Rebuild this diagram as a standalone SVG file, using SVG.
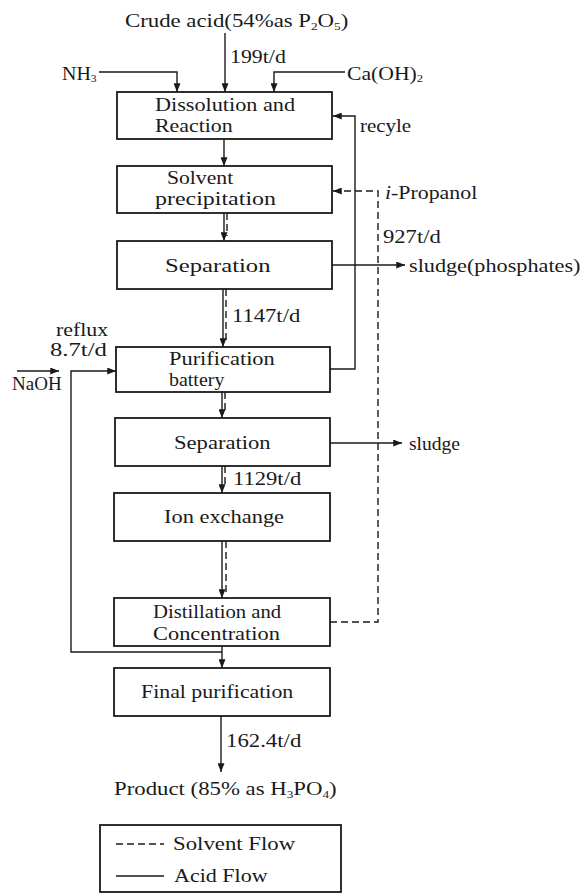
<svg xmlns="http://www.w3.org/2000/svg" width="582" height="894" viewBox="0 0 582 894">
<style>
text{font-family:"Liberation Serif","Times New Roman",serif;font-size:19px;fill:#1a1a1a}
.box{fill:#fff;stroke:#1a1a1a;stroke-width:1.8}
.ln{fill:none;stroke:#1a1a1a;stroke-width:1.4}
.ds{fill:none;stroke:#1a1a1a;stroke-width:1.4;stroke-dasharray:7,4}
.sub{font-size:11px}
</style>
<defs>
<marker id="ah" viewBox="0 0 10 8" refX="10" refY="4" markerWidth="10" markerHeight="7" markerUnits="userSpaceOnUse" orient="auto">
<path d="M0,0 L10,4 L0,8 Z" fill="#1a1a1a"/>
</marker>
</defs>
<rect width="582" height="894" fill="#fff"/>

<g id="connectors">
<line class="ln" x1="225" y1="33" x2="225" y2="92" marker-end="url(#ah)"/>
<polyline class="ln" points="99,72 177,72 177,92" marker-end="url(#ah)"/>
<polyline class="ln" points="345,72 274,72 274,92" marker-end="url(#ah)"/>
<line class="ln" x1="224" y1="139" x2="224" y2="166" marker-end="url(#ah)"/>
<line class="ln" x1="224" y1="213" x2="224" y2="241" marker-end="url(#ah)"/>
<line class="ds" x1="227" y1="213" x2="227" y2="236"/>
<line class="ln" x1="223" y1="289" x2="223" y2="347" marker-end="url(#ah)"/>
<line class="ds" x1="226" y1="289" x2="226" y2="342"/>
<line class="ln" x1="222" y1="392" x2="222" y2="418" marker-end="url(#ah)"/>
<line class="ds" x1="225" y1="392" x2="225" y2="413"/>
<line class="ln" x1="222" y1="466" x2="222" y2="493" marker-end="url(#ah)"/>
<line class="ds" x1="225" y1="466" x2="225" y2="488"/>
<line class="ln" x1="222" y1="541" x2="222" y2="598" marker-end="url(#ah)"/>
<line class="ds" x1="226" y1="541" x2="226" y2="593"/>
<line class="ln" x1="222" y1="646" x2="222" y2="668" marker-end="url(#ah)"/>
<line class="ln" x1="221" y1="716" x2="221" y2="772" marker-end="url(#ah)"/>
<polyline class="ln" points="330,369 355,369 355,116 333,116" marker-end="url(#ah)"/>
<polyline class="ds" points="330,622 378,622 378,191 333,191" marker-end="url(#ah)"/>
<line class="ln" x1="332" y1="265" x2="405" y2="265" marker-end="url(#ah)"/>
<line class="ln" x1="330" y1="443" x2="402" y2="443" marker-end="url(#ah)"/>
<polyline class="ln" points="222,652 71,652 71,371 116,371" marker-end="url(#ah)"/>
<line class="ln" x1="17" y1="371" x2="59" y2="371" marker-end="url(#ah)"/>
</g>

<g id="n-dissolution">
<rect class="box" x="117" y="92" width="215" height="47"/>
<text transform="translate(155,111) scale(1.17,1)">Dissolution and</text>
<text transform="translate(155,132) scale(1.15,1)">Reaction</text>
</g>
<g id="n-solvent">
<rect class="box" x="117" y="166" width="215" height="47"/>
<text transform="translate(167,184) scale(1.14,1)">Solvent</text>
<text transform="translate(155,205) scale(1.26,1)">precipitation</text>
</g>
<g id="n-separation1">
<rect class="box" x="117" y="241" width="215" height="48"/>
<text transform="translate(165,272) scale(1.3,1)">Separation</text>
</g>
<g id="n-purification">
<rect class="box" x="116" y="347" width="214" height="45"/>
<text transform="translate(169,365) scale(1.18,1)">Purification</text>
<text transform="translate(169,386) scale(1.05,1)">battery</text>
</g>
<g id="n-separation2">
<rect class="box" x="115" y="418" width="215" height="48"/>
<text transform="translate(174,449) scale(1.19,1)">Separation</text>
</g>
<g id="n-ion">
<rect class="box" x="114" y="493" width="216" height="48"/>
<text transform="translate(164,523) scale(1.18,1)">Ion exchange</text>
</g>
<g id="n-distillation">
<rect class="box" x="114" y="598" width="216" height="48"/>
<text transform="translate(153,618) scale(1.09,1)">Distillation and</text>
<text transform="translate(153,640) scale(1.18,1)">Concentration</text>
</g>
<g id="n-final">
<rect class="box" x="114" y="668" width="216" height="48"/>
<text transform="translate(141,698) scale(1.15,1)">Final purification</text>
</g>

<g id="labels">
<text transform="translate(125,27) scale(1.2,1)">Crude acid(54%as P<tspan class="sub" dy="3">2</tspan><tspan dy="-3">O</tspan><tspan class="sub" dy="3">5</tspan><tspan dy="-3">)</tspan></text>
<text transform="translate(230,63) scale(1.15,1)">199t/d</text>
<text transform="translate(62,80) scale(1.05,1)">NH<tspan class="sub" dy="2">3</tspan></text>
<text transform="translate(347,80) scale(1.14,1)">Ca(OH)<tspan class="sub" dy="2">2</tspan></text>
<text transform="translate(360,132) scale(1.1,1)">recyle</text>
<text transform="translate(385,199) scale(1.15,1)"><tspan font-style="italic">i</tspan>-Propanol</text>
<text transform="translate(383,243) scale(1.19,1)">927t/d</text>
<text transform="translate(409,272) scale(1.17,1)">sludge(phosphates)</text>
<text transform="translate(232,322) scale(1.19,1)">1147t/d</text>
<text transform="translate(56,336) scale(1.15,1)">reflux</text>
<text transform="translate(50,356) scale(1.3,1)">8.7t/d</text>
<text x="12" y="390">NaOH</text>
<text transform="translate(409,450) scale(1.03,1)">sludge</text>
<text transform="translate(233,485) scale(1.19,1)">1129t/d</text>
<text transform="translate(226,747) scale(1.2,1)">162.4t/d</text>
<text transform="translate(114,795) scale(1.2,1)">Product (85% as H<tspan class="sub" dy="3">3</tspan><tspan dy="-3">PO</tspan><tspan class="sub" dy="3">4</tspan><tspan dy="-3">)</tspan></text>
</g>

<g id="legend">
<rect class="box" x="100" y="825" width="241" height="67"/>
<line class="ds" x1="116" y1="844" x2="164" y2="844" stroke-dasharray="5,3"/>
<text transform="translate(173,850) scale(1.2,1)">Solvent Flow</text>
<line class="ln" x1="116" y1="876" x2="164" y2="876"/>
<text transform="translate(174,882) scale(1.16,1)">Acid Flow</text>
</g>
</svg>
